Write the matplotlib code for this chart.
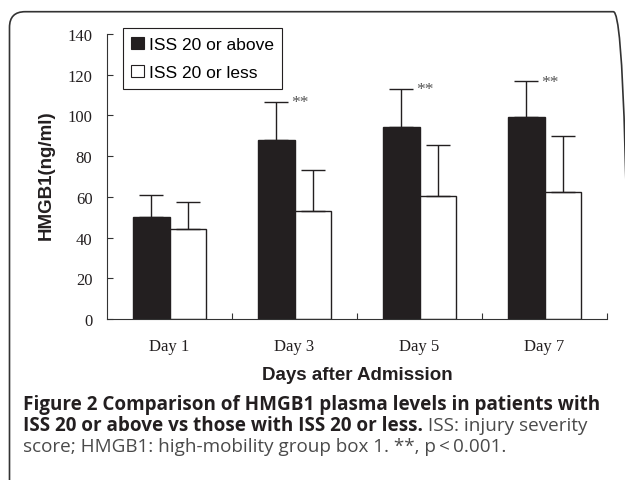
import matplotlib
matplotlib.use("Agg")
import matplotlib.pyplot as plt
from matplotlib.patches import Patch, FancyBboxPatch
import numpy as np

categories = ["Day 1", "Day 3", "Day 5", "Day 7"]
iss_above = [50, 88, 94.5, 99]
iss_above_err = [11, 18.5, 18.5, 17.7]
iss_less = [44, 53, 60.5, 62.5]
iss_less_err = [13.5, 20.3, 25, 27.5]
significance = ["", "**", "**", "**"]
yticks = [0, 20, 40, 60, 80, 100, 120, 140]

W, H = 625, 481
fig = plt.figure(figsize=(W / 100, H / 100), dpi=100)

# rounded frame
frame = FancyBboxPatch((9.5 / W, -0.2), (629 - 9.5) / W, 1.2 - 12.7 / H,
                       boxstyle="round,pad=0,rounding_size=0.025",
                       transform=fig.transFigure, fill=False,
                       edgecolor="#333333", linewidth=1.2, mutation_aspect=W / H)
fig.patches.append(frame)

ax = fig.add_axes([107 / W, 1 - 320 / H, 500 / W, 285 / H])
black = "#231f20"
x = np.arange(len(categories))
bw = 0.29
ax.bar(x - bw / 2, iss_above, bw, color=black, edgecolor=black, linewidth=1.0, zorder=2)
ax.bar(x + bw / 2, iss_less, bw, color="white", edgecolor=black, linewidth=1.0, zorder=2)
ax.errorbar(x - bw / 2, iss_above, yerr=[np.zeros(4), iss_above_err], fmt="none",
            ecolor=black, elinewidth=1.0, capsize=8.5, capthick=1.0, zorder=3)
ax.errorbar(x + bw / 2, iss_less, yerr=[np.zeros(4), iss_less_err], fmt="none",
            ecolor=black, elinewidth=1.0, capsize=8.5, capthick=1.0, zorder=3)

for i, s in enumerate(significance):
    if s:
        top = iss_above[i] + iss_above_err[i]
        ax.text(i - 0.03, top - 2, s, ha="left", va="baseline",
                fontfamily="Liberation Serif", fontsize=12.5, color="#555555")

ax.set_xlim(-0.5, 3.5)
ax.set_ylim(0, 140)
for sp in ["top", "right"]:
    ax.spines[sp].set_visible(False)
for sp in ["left", "bottom"]:
    ax.spines[sp].set_linewidth(0.8)
    ax.spines[sp].set_color("#333333")

ax.set_yticks(yticks)
ax.set_yticklabels([str(v) for v in yticks], fontfamily="Liberation Serif",
                   fontsize=12, color=black)
ax.tick_params(axis="y", direction="in", length=4.5, width=0.8, pad=10.5, colors="#333333")
ax.set_xticks([0.5, 1.5, 2.5, 3.5])
ax.set_xticklabels([])
ax.set_xticks(x, minor=True)
ax.set_xticklabels(categories, minor=True, fontfamily="Liberation Serif",
                   fontsize=12, color=black)
ax.tick_params(axis="x", which="major", direction="in", length=4.5, width=0.8, colors="#333333")
ax.tick_params(axis="x", which="minor", length=0, pad=14)
for lab in ax.get_yticklabels() + ax.get_xticklabels(minor=True):
    lab.set_color(black)

fig.text(46 / W, 1 - 175 / H, "HMGB1(ng/ml)", rotation=90, ha="center", va="center",
         fontfamily="Liberation Sans", fontweight="bold", fontsize=13.5, color=black)
fig.text(357 / W, 1 - 376 / H, "Days after Admission", ha="center", va="center",
         fontfamily="Liberation Sans", fontweight="bold", fontsize=13.5, color=black)

handles = [Patch(facecolor=black, edgecolor=black, linewidth=0.8),
           Patch(facecolor="white", edgecolor=black, linewidth=0.8)]
leg = fig.legend(handles, ["ISS 20 or above", "ISS 20 or less"],
                 loc="upper left", bbox_to_anchor=(122.7 / W, 1 - 29.3 / H),
                 bbox_transform=fig.transFigure, borderaxespad=0,
                 prop={"family": "Liberation Sans", "size": 12.5},
                 handlelength=0.7, handleheight=0.7, handletextpad=0.3,
                 labelspacing=0.75, borderpad=0.5, fancybox=False, framealpha=1)
leg.get_frame().set_edgecolor(black)
leg.get_frame().set_linewidth(0.8)

# caption
cap_font = ["Open Sans", "DejaVu Sans"]
bold_col = "#231f20"
reg_col = "#4a4a4a"
lines = [
    [("Figure 2 Comparison of HMGB1 plasma levels in patients with", "bold")],
    [("ISS 20 or above vs those with ISS 20 or less.", "bold"),
     (" ISS: injury severity", "normal")],
    [("score; HMGB1: high-mobility group box 1. **, p\u2009<\u20090.001.", "normal")],
]
baselines = [410, 431, 452]
left_px, right_px = 23, 602

fig.canvas.draw()
renderer = fig.canvas.get_renderer()
probe = fig.text(0, 0, lines[0][0][0], fontfamily=cap_font, fontweight="bold", fontsize=10)
pw = probe.get_window_extent(renderer).width
probe.remove()
fs = 10 * (right_px - left_px) / pw

for segs, bl in zip(lines, baselines):
    xpos = left_px / W
    for txt, wt in segs:
        t = fig.text(xpos, 1 - bl / H, txt, ha="left", va="baseline",
                     fontfamily=cap_font, fontweight=wt, fontsize=fs,
                     color=bold_col if wt == "bold" else reg_col)
        bb = t.get_window_extent(renderer)
        xpos = bb.x1 / W

fig.savefig("out.png", dpi=100)
